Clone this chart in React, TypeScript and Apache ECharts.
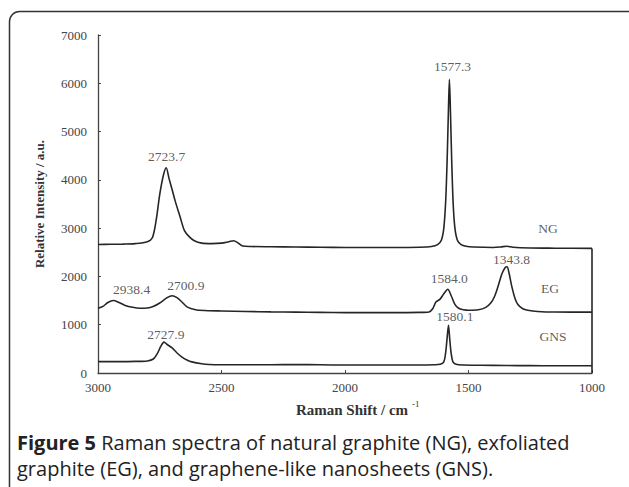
import React, { useEffect, useRef } from "react";
import * as echarts from "echarts";

// Raman shift (cm^-1) and intensity (a.u.)
const NG_X = [3000, 2950, 2900, 2850, 2800, 2780, 2765, 2750, 2735, 2724, 2712, 2700, 2688, 2668, 2650, 2630, 2610, 2580, 2540, 2500, 2470, 2450, 2435, 2415, 2380, 2300, 2200, 2100, 2000, 1900, 1800, 1700, 1650, 1625, 1610, 1600, 1592, 1586, 1581, 1577.3, 1573, 1568, 1562, 1555, 1545, 1530, 1510, 1480, 1400, 1370, 1345, 1320, 1250, 1150, 1000];
const NG_Y = [2660, 2665, 2670, 2680, 2720, 2800, 3150, 3700, 4100, 4250, 4020, 3800, 3570, 3240, 2950, 2820, 2740, 2690, 2680, 2690, 2720, 2740, 2700, 2630, 2620, 2615, 2610, 2605, 2600, 2600, 2600, 2605, 2620, 2660, 2750, 3000, 3600, 4500, 5500, 6080, 5400, 4400, 3500, 3000, 2750, 2660, 2625, 2610, 2600, 2610, 2625, 2605, 2590, 2585, 2580];

const EG_X = [3000, 2980, 2960, 2938, 2915, 2890, 2860, 2830, 2800, 2777, 2750, 2720, 2700, 2680, 2660, 2641, 2620, 2600, 2550, 2500, 2400, 2300, 2200, 2100, 2000, 1900, 1800, 1700, 1660, 1645, 1632, 1615, 1600, 1584, 1570, 1555, 1540, 1520, 1500, 1460, 1430, 1410, 1395, 1380, 1365, 1352, 1344, 1335, 1325, 1312, 1300, 1280, 1260, 1220, 1150, 1000];
const EG_Y = [1340, 1380, 1460, 1500, 1460, 1400, 1360, 1340, 1345, 1375, 1450, 1560, 1600, 1560, 1470, 1375, 1330, 1305, 1290, 1285, 1275, 1265, 1260, 1255, 1250, 1250, 1250, 1255, 1265, 1330, 1470, 1530, 1640, 1735, 1600, 1420, 1340, 1310, 1300, 1310, 1360, 1450, 1580, 1800, 2050, 2180, 2200, 2050, 1800, 1550, 1420, 1330, 1300, 1275, 1262, 1260];

const GNS_X = [3000, 2900, 2850, 2800, 2776, 2760, 2745, 2733, 2720, 2700, 2681, 2660, 2640, 2620, 2580, 2550, 2500, 2400, 2300, 2200, 2100, 2000, 1900, 1800, 1700, 1640, 1615, 1600, 1593, 1587, 1581, 1576, 1570, 1563, 1550, 1520, 1450, 1350, 1250, 1150, 1000];
const GNS_Y = [235, 235, 240, 250, 290, 400, 560, 640, 590, 520, 420, 330, 270, 230, 190, 175, 170, 170, 170, 175, 170, 165, 165, 165, 165, 170, 180, 230, 400, 700, 990, 700, 400, 230, 180, 165, 160, 155, 152, 150, 150];

// right-hand closing line of the spectra box
const FRAME_X = [1000, 1000];
const FRAME_Y = [2580, 0];

// peak annotations and sample names
const LABEL_TEXT = ["2723.7", "2938.4", "2700.9", "2727.9", "1577.3", "1584.0", "1343.8", "1580.1", "NG", "EG", "GNS"];
const LABEL_X = [2722, 2864, 2644, 2725, 1565, 1578, 1326, 1555, 1178, 1170, 1158];
const LABEL_Y = [4478, 1733, 1822, 787, 6342, 1967, 2360, 1166, 3002, 1760, 766];

const X_TICKS = [1000, 1500, 2000, 2500, 3000];
const Y_TICKS = [0, 1000, 2000, 3000, 4000, 5000, 6000, 7000];

const zip = (xs: number[], ys: number[]) => xs.map((x, i) => [x, ys[i]]);

export default function App() {
  const ref = useRef<HTMLDivElement>(null);
  useEffect(() => {
    document.body.style.margin = "0";
    const chart = echarts.init(ref.current!, undefined, { renderer: "svg" });
    const serif = "Liberation Serif";
    const lineStyle = { color: "#262626", width: 1.6 };
    const mk = (name: string, xs: number[], ys: number[]) => ({
      name,
      type: "line",
      data: zip(xs, ys),
      symbol: "none",
      smooth: 0.3,
      lineStyle,
    });
    chart.setOption({
      animation: false,
      backgroundColor: "#ffffff",
      grid: { left: 98, right: 37, top: 35, bottom: 114 },
      xAxis: {
        type: "value",
        inverse: true,
        min: X_TICKS[0],
        max: X_TICKS[X_TICKS.length - 1],
        interval: 500,
        splitLine: { show: false },
        axisLine: { lineStyle: { color: "#444", width: 1.3 } },
        axisTick: { inside: true, length: 3, lineStyle: { color: "#444" } },
        axisLabel: { fontFamily: serif, fontSize: 13, color: "#444", margin: 8, formatter: (v: number) => String(v) },
      },
      yAxis: {
        type: "value",
        min: Y_TICKS[0],
        max: Y_TICKS[Y_TICKS.length - 1],
        interval: 1000,
        splitLine: { show: false },
        axisLine: { show: true, lineStyle: { color: "#444", width: 1.3 } },
        axisTick: { show: true, inside: true, length: 3, lineStyle: { color: "#444" } },
        axisLabel: { fontFamily: serif, fontSize: 13, color: "#444", margin: 11, formatter: (v: number) => String(v) },
        name: "Relative Intensity / a.u.",
        nameLocation: "middle",
        nameGap: 52,
        nameTextStyle: { fontFamily: serif, fontSize: 13, fontWeight: "bold", color: "#333" },
      },
      series: [
        mk("NG", NG_X, NG_Y),
        mk("EG", EG_X, EG_Y),
        mk("GNS", GNS_X, GNS_Y),
        { name: "frame", type: "line", data: zip(FRAME_X, FRAME_Y), symbol: "none", lineStyle },
        {
          name: "labels",
          type: "scatter",
          symbolSize: 0,
          data: LABEL_X.map((x, i) => ({ value: [x, LABEL_Y[i]], name: LABEL_TEXT[i] })),
          label: {
            show: true,
            position: "inside",
            formatter: (p: any) => p.name,
            fontFamily: serif,
            fontSize: 13.5,
            color: "#333",
          },
        },
      ],
      graphic: [
        {
          type: "rect",
          shape: { x: 9.5, y: 11.5, width: 700, height: 600, r: 10 },
          style: { fill: "none", stroke: "#333", lineWidth: 1.5 },
        },
        {
          type: "text",
          x: 352,
          y: 410,
          style: {
            text: "Raman Shift / cm",
            fontFamily: serif,
            fontSize: 15,
            fontWeight: "bold",
            fill: "#333",
            align: "center",
            verticalAlign: "middle",
          },
        },
        {
          type: "text",
          x: 412,
          y: 404,
          style: { text: "-1", fontFamily: serif, fontSize: 9, fill: "#333", verticalAlign: "middle" },
        },
        {
          type: "text",
          x: 17,
          y: 442,
          style: {
            text: "{b|Figure 5} Raman spectra of natural graphite (NG), exfoliated",
            verticalAlign: "middle",
            rich: {
              b: { fontFamily: "Open Sans", fontSize: 20, fontWeight: "bold", fill: "#222", lineHeight: 24 },
            },
            fontFamily: "Open Sans",
            fontSize: 20,
            lineHeight: 24,
            fill: "#222",
          },
        },
        {
          type: "text",
          x: 17,
          y: 468,
          style: {
            text: "graphite (EG), and graphene-like nanosheets (GNS).",
            verticalAlign: "middle",
            fontFamily: "Open Sans",
            fontSize: 20,
            lineHeight: 24,
            fill: "#222",
          },
        },
      ],
    });
    return () => chart.dispose();
  }, []);
  return <div ref={ref} style={{ width: 629, height: 487 }} />;
}
